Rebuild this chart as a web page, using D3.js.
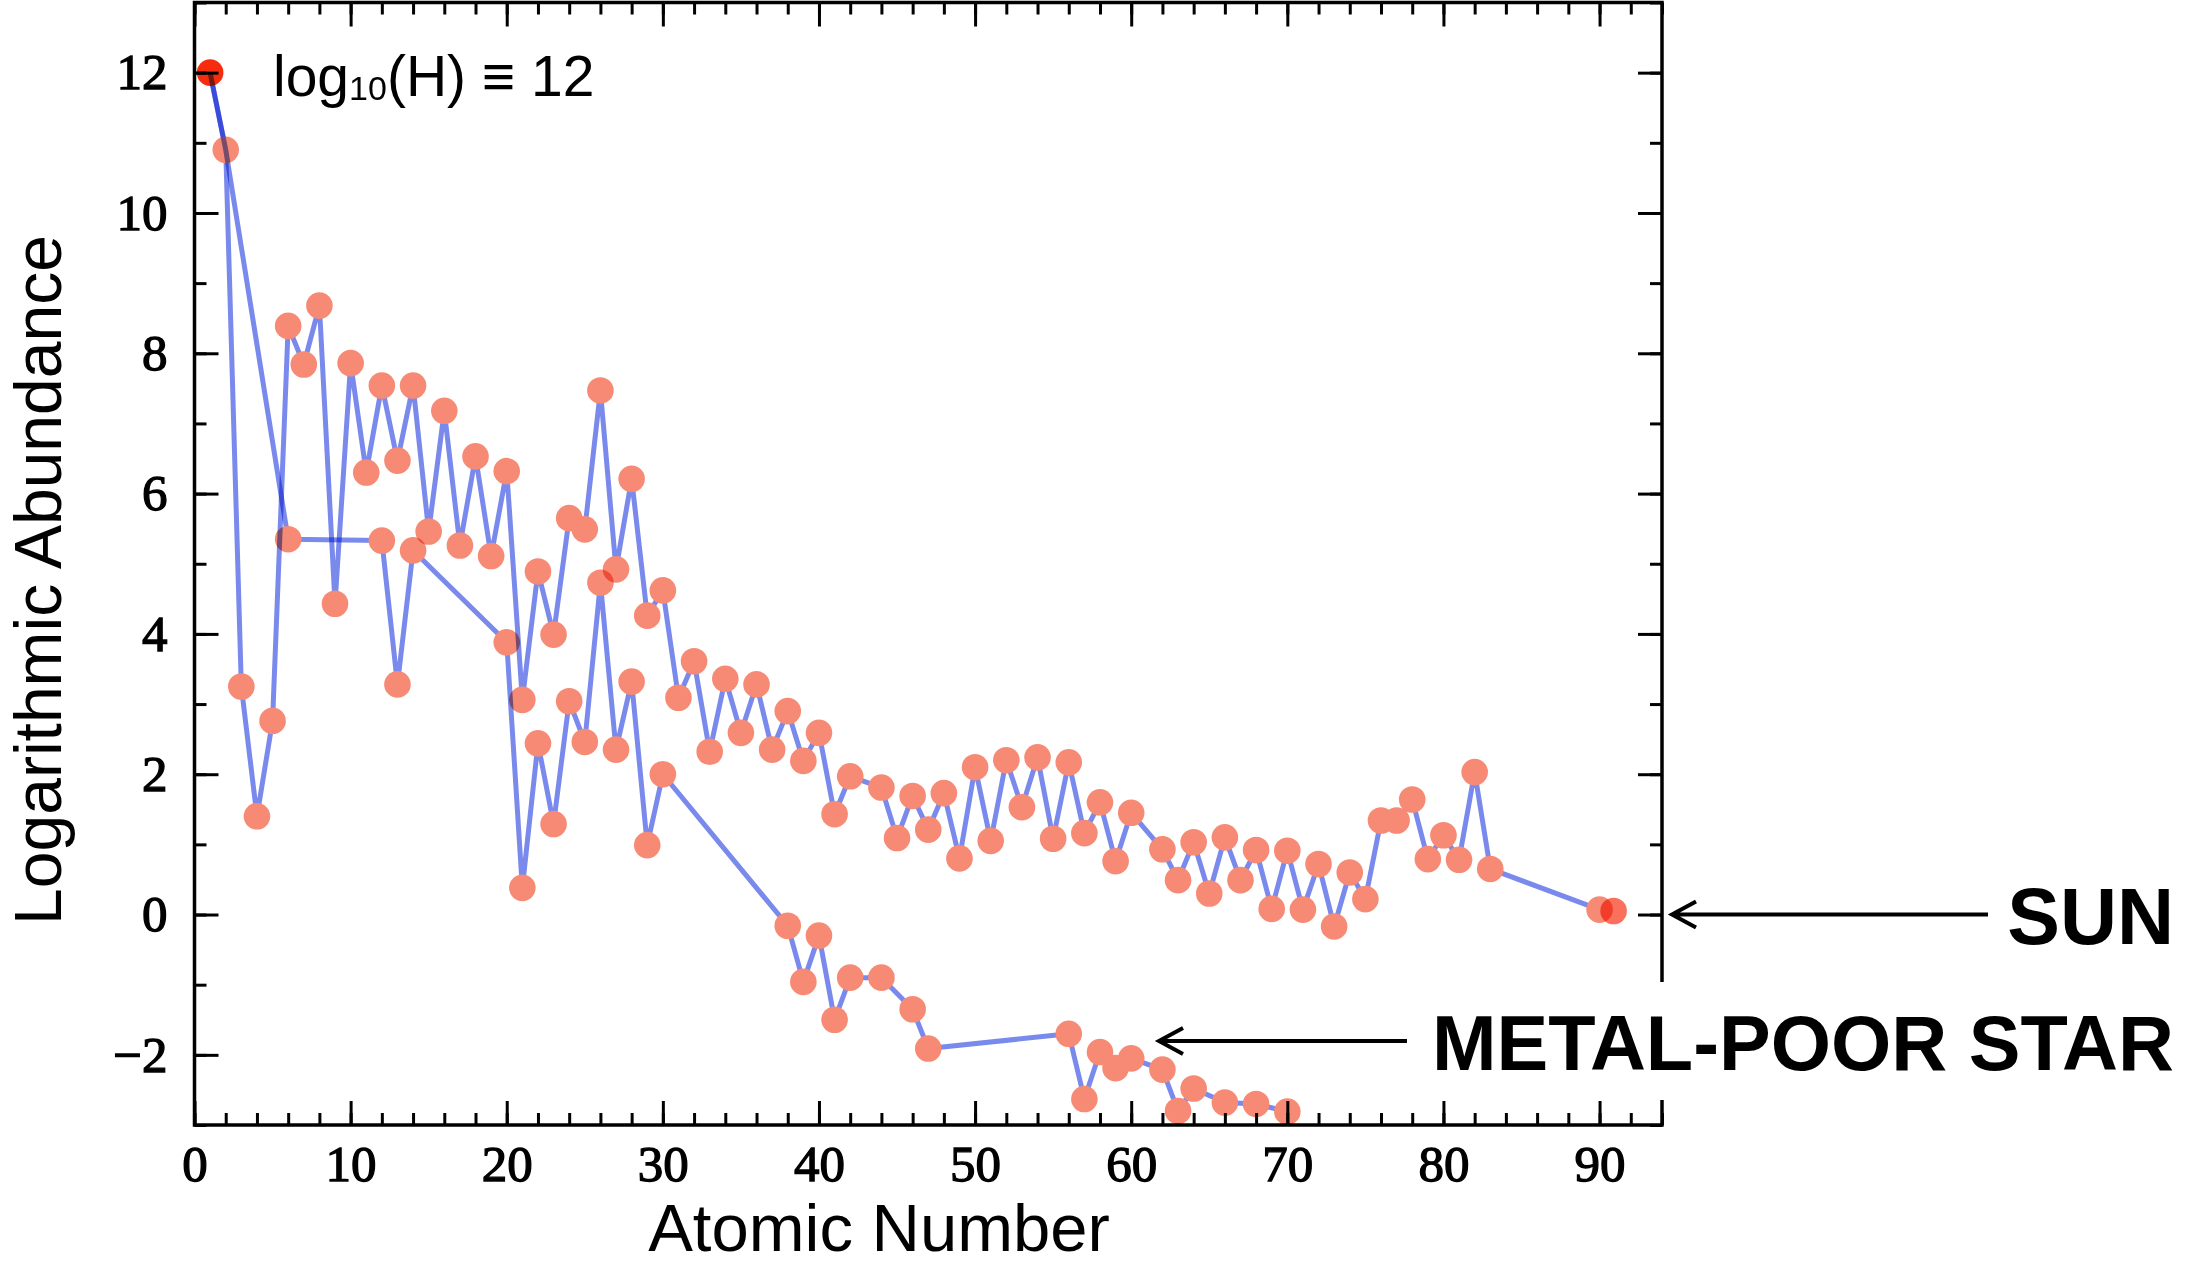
<!DOCTYPE html>
<html><head><meta charset="utf-8">
<script src="https://cdn.jsdelivr.net/npm/d3@7"></script>
<style>
html,body{margin:0;padding:0;background:#fff;}
svg{display:block;background:#fff;}
.layer{mix-blend-mode:multiply;}
</style></head><body>
<svg id="chart" width="2188" height="1266"></svg>
<script>
// ---- data ----
const sunZ = [1,2,3,4,5,6,7,8,9,10,11,12,13,14,15,16,17,18,19,20,21,22,23,24,25,26,27,28,29,30,31,32,33,34,35,36,37,38,39,40,41,42,44,45,46,47,48,49,50,51,52,53,54,55,56,57,58,59,60,62,63,64,65,66,67,68,69,70,71,72,73,74,75,76,77,78,79,80,81,82,83,90];
const sunAbundance = [12,10.9,3.25,1.40,2.76,8.39,7.84,8.68,4.43,7.86,6.30,7.54,6.47,7.54,5.46,7.18,5.26,6.53,5.11,6.32,3.06,4.89,3.99,5.65,5.49,7.47,4.92,6.21,4.26,4.62,3.09,3.61,2.32,3.36,2.59,3.28,2.35,2.90,2.19,2.59,1.43,1.97,1.81,1.09,1.69,1.21,1.73,0.80,2.10,1.05,2.20,1.53,2.24,1.08,2.17,1.16,1.60,0.76,1.45,0.93,0.49,1.03,0.30,1.10,0.49,0.92,0.08,0.91,0.07,0.72,-0.17,0.60,0.22,1.34,1.34,1.64,0.79,1.13,0.78,2.03,0.65,0.07];
const poorZ = [1,2,6,12,13,14,20,21,22,23,24,25,26,27,28,29,30,38,39,40,41,42,44,46,47,56,57,58,59,60,62,63,64,66,68,70];
const poorAbundance = [12,10.9,5.35,5.33,3.28,5.19,3.88,0.38,2.44,1.29,3.04,2.46,4.73,2.35,3.32,0.99,2.0,-0.16,-0.96,-0.30,-1.50,-0.90,-0.90,-1.35,-1.91,-1.70,-2.63,-1.96,-2.19,-2.05,-2.21,-2.80,-2.48,-2.68,-2.70,-2.81];
const sharedZ = [1,2];          // H and He: same point in both series (dot drawn once)
const referenceZ = [1];        // hydrogen, the normalisation point (log10(H) = 12)
const markZ = [90.9];
const markAbundance = [0.05];
const xTickValues = [0,10,20,30,40,50,60,70,80,90];
const yTickValues = [-2,0,2,4,6,8,10,12];
const seriesLabels = ["SUN","METAL-POOR STAR"];

// ---- layout ----
const pL = 194.5, pR = 1662, pT = 2.5, pB = 1125;
const x = d3.scaleLinear().domain([0,94]).range([pL,pR]);
const y = d3.scaleLinear().domain([-3,13]).range([pB,pT]);

const svg = d3.select("#chart");
const lineCol = "rgb(122,138,236)";
const dotCol = "rgb(247,138,117)";
const refCol = "rgb(246,44,14)";
const R = 13.3;

function drawSeries(zs, vs, withLine, fill, skip){
  const g = svg.append("g").attr("class","layer");
  const pts = zs.map((z,i)=>[z,vs[i]]);
  if(withLine){
    g.append("path").datum(pts)
      .attr("d", d3.line().x(d=>x(d[0])).y(d=>y(d[1])))
      .attr("fill","none").attr("stroke",lineCol).attr("stroke-width",5)
      .attr("stroke-linejoin","round");
  }
  g.selectAll("circle").data(pts.filter(d=>!skip.includes(d[0]))).join("circle")
    .attr("cx",d=>x(d[0])).attr("cy",d=>y(d[1])).attr("r",R)
    .attr("fill",d=>referenceZ.includes(d[0]) ? refCol : fill);
}
drawSeries(sunZ, sunAbundance, true, dotCol, []);
drawSeries(poorZ, poorAbundance, true, dotCol, sharedZ);
drawSeries(markZ, markAbundance, false, "rgb(250,112,92)", []);

// ---- axes ----
const axG = svg.append("g");
const xMinor = d3.range(0,95,2);
const yMinor = d3.range(-3,14,1);
function styleAxis(g){
  g.select(".domain").remove();
  g.selectAll(".tick line").attr("stroke","#000").attr("stroke-width",3);
}
function styleLabels(g){
  g.selectAll("text").attr("font-size",51).attr("fill","#000")
    .attr("stroke","#000").attr("stroke-width",1.3)
    .attr("font-family","'Liberation Serif', 'Times New Roman', serif");
}
// bottom
axG.append("g").attr("transform",`translate(0,${pB})`)
  .call(d3.axisBottom(x).tickValues(xMinor).tickSize(-12).tickFormat(""))
  .call(styleAxis);
axG.append("g").attr("transform",`translate(0,${pB})`)
  .call(d3.axisBottom(x).tickValues(xTickValues).tickSize(-24).tickPadding(20))
  .call(styleAxis).call(styleLabels);
// top
axG.append("g").attr("transform",`translate(0,${pT})`)
  .call(d3.axisTop(x).tickValues(xMinor).tickSize(-12).tickFormat("")).call(styleAxis);
axG.append("g").attr("transform",`translate(0,${pT})`)
  .call(d3.axisTop(x).tickValues(xTickValues).tickSize(-24).tickFormat("")).call(styleAxis);
// left
axG.append("g").attr("transform",`translate(${pL},0)`)
  .call(d3.axisLeft(y).tickValues(yMinor).tickSize(-12).tickFormat("")).call(styleAxis);
axG.append("g").attr("transform",`translate(${pL},0)`)
  .call(d3.axisLeft(y).tickValues(yTickValues).tickSize(-24).tickPadding(27))
  .call(styleAxis).call(styleLabels);
// right
axG.append("g").attr("transform",`translate(${pR},0)`)
  .call(d3.axisRight(y).tickValues(yMinor).tickSize(-12).tickFormat("")).call(styleAxis);
axG.append("g").attr("transform",`translate(${pR},0)`)
  .call(d3.axisRight(y).tickValues(yTickValues).tickSize(-24).tickFormat("")).call(styleAxis);
// frame
svg.append("rect").attr("x",pL).attr("y",pT).attr("width",pR-pL).attr("height",pB-pT)
  .attr("fill","none").attr("stroke","#000").attr("stroke-width",3.5);

// ---- titles ----
svg.append("text").attr("x",879).attr("y",1251).attr("text-anchor","middle")
  .attr("font-family","'Liberation Sans', Arial, sans-serif").attr("font-size",67).attr("fill","#000")
  .text("Atomic Number");
svg.append("text").attr("transform","translate(61,580) rotate(-90)").attr("text-anchor","middle")
  .attr("font-family","'Liberation Sans', Arial, sans-serif").attr("font-size",66).attr("fill","#000")
  .text("Logarithmic Abundance");

// log10(H) annotation
const ann = svg.append("text").attr("x",273).attr("y",96)
  .attr("font-family","'Liberation Sans', Arial, sans-serif").attr("font-size",57).attr("fill","#000");
ann.append("tspan").text("log");
ann.append("tspan").attr("font-size",34).attr("dy",4).text("10");
ann.append("tspan").attr("dy",-4).text("(H) \u2261 12");

// ---- series labels with arrows ----
svg.append("rect").attr("x",1412).attr("y",982).attr("width",776).attr("height",118).attr("fill","#fff");
const labG = svg.append("g").attr("font-family","'Liberation Sans', Arial, sans-serif")
  .attr("font-weight","bold").attr("fill","#000");
labG.append("text").attr("x",2174).attr("y",944).attr("text-anchor","end").attr("font-size",79)
  .text(seriesLabels[0]);
labG.append("text").attr("x",2174).attr("y",1070).attr("text-anchor","end").attr("font-size",77.5)
  .text(seriesLabels[1]);

function arrow(x1, x2, yy){
  const p = d3.path();
  p.moveTo(x2, yy); p.lineTo(x1, yy);
  p.moveTo(x1+24, yy-13); p.lineTo(x1, yy); p.lineTo(x1+24, yy+13);
  svg.append("path").attr("d",p.toString()).attr("fill","none").attr("stroke","#000")
    .attr("stroke-width",4).attr("stroke-linejoin","miter");
}
arrow(1672, 1988, y(0));
arrow(1159, 1407, 1041);
</script>
</body></html>
